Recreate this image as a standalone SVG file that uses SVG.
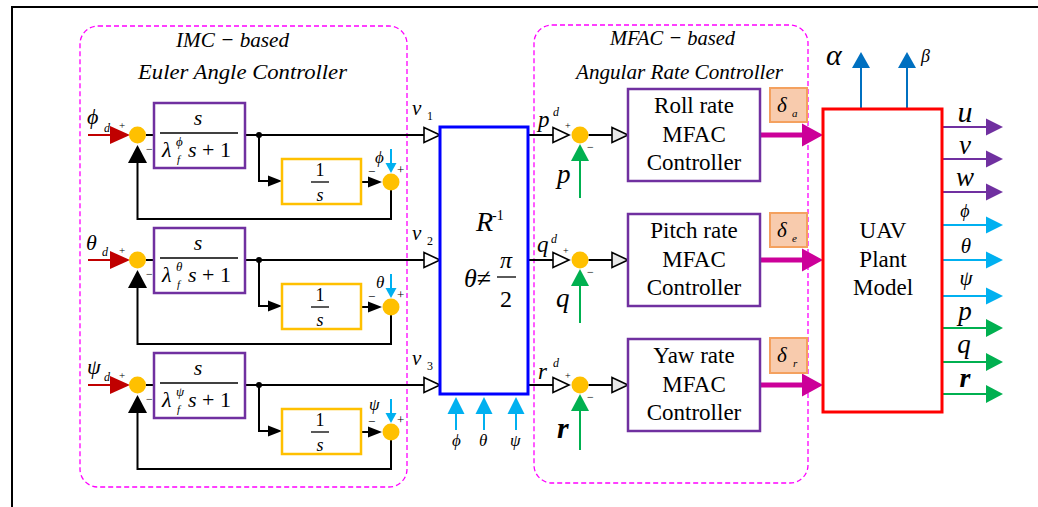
<svg xmlns="http://www.w3.org/2000/svg" width="1038" height="507" viewBox="0 0 1038 507">
<style>
.t{font-family:"Liberation Serif","Times New Roman",serif;fill:#000}
.i{font-style:italic}
.b{font-weight:bold}
.ln{stroke:#000;stroke-width:2;fill:none}
.thin{stroke:#000;stroke-width:1.3;fill:none}
.dash{fill:none;stroke:#FF00FF;stroke-width:1.3;stroke-dasharray:5 3}
.sum{fill:#FFC000}
.pb{fill:#fff;stroke:#7030A0;stroke-width:2.5}
.ob{fill:#fff;stroke:#FFC000;stroke-width:2.5}
.db{fill:#F8CBAD;stroke:#F4A15F;stroke-width:2}
.cy{stroke:#00B0F0;stroke-width:2;fill:none}
.gr{stroke:#00B050;stroke-width:2;fill:none}
.pu{stroke:#7030A0;stroke-width:2;fill:none}
.bl{stroke:#0070C0;stroke-width:2;fill:none}
.rd{stroke:#C00000;stroke-width:2;fill:none}
.mg{stroke:#CC0099;stroke-width:5;fill:none;stroke-linecap:round}
</style>
<defs>
<marker id="mHollow" markerUnits="userSpaceOnUse" markerWidth="16" markerHeight="15" refX="0" refY="7.5" orient="auto" overflow="visible"><path d="M0,0 L16,7.5 L0,15 Z" fill="#fff" stroke="#000" stroke-width="1.6"/></marker>
<marker id="mHollowG" markerUnits="userSpaceOnUse" markerWidth="16" markerHeight="15" refX="0" refY="7.5" orient="auto" overflow="visible"><path d="M0,0 L16,7.5 L0,15 Z" fill="#E8E8E8" stroke="#000" stroke-width="1.6"/></marker>
<marker id="mBlk" markerUnits="userSpaceOnUse" markerWidth="14" markerHeight="11" refX="0" refY="5.5" orient="auto" overflow="visible"><path d="M0,0 L14,5.5 L0,11 Z" fill="#000"/></marker>
<marker id="mBlkBig" markerUnits="userSpaceOnUse" markerWidth="18" markerHeight="19" refX="0" refY="9.5" orient="auto" overflow="visible"><path d="M0,0 L18,9.5 L0,19 Z" fill="#000"/></marker>
<marker id="mRed" markerUnits="userSpaceOnUse" markerWidth="20" markerHeight="18" refX="0" refY="9" orient="auto" overflow="visible"><path d="M0,0 L20,9 L0,18 Z" fill="#C00000"/></marker>
<marker id="mCyanS" markerUnits="userSpaceOnUse" markerWidth="10" markerHeight="11" refX="0" refY="5.5" orient="auto" overflow="visible"><path d="M0,0 L10,5.5 L0,11 Z" fill="#00B0F0"/></marker>
<marker id="mCyan" markerUnits="userSpaceOnUse" markerWidth="17" markerHeight="17" refX="0" refY="8.5" orient="auto" overflow="visible"><path d="M0,0 L17,8.5 L0,17 Z" fill="#00B0F0"/></marker>
<marker id="mGreen" markerUnits="userSpaceOnUse" markerWidth="17" markerHeight="18" refX="0" refY="9" orient="auto" overflow="visible"><path d="M0,0 L17,9 L0,18 Z" fill="#00B050"/></marker>
<marker id="mPurple" markerUnits="userSpaceOnUse" markerWidth="17" markerHeight="17" refX="0" refY="8.5" orient="auto" overflow="visible"><path d="M0,0 L17,8.5 L0,17 Z" fill="#7030A0"/></marker>
<marker id="mBlue" markerUnits="userSpaceOnUse" markerWidth="16" markerHeight="18" refX="0" refY="9" orient="auto" overflow="visible"><path d="M0,0 L16,9 L0,18 Z" fill="#0070C0"/></marker>
<marker id="mMag" markerUnits="userSpaceOnUse" markerWidth="21" markerHeight="23" refX="0" refY="11.5" orient="auto" overflow="visible"><path d="M0,0 L21,11.5 L0,23 Z" fill="#CC0099"/></marker>
</defs>
<rect width="1038" height="507" fill="#fff"/>
<path d="M12,507 V7 H1038" stroke="#000" stroke-width="2" fill="none"/>

<g id="imc-group">
<rect class="dash" x="80" y="26" width="327" height="461" rx="18"/>
<text class="t i" x="176" y="47" font-size="22" textLength="113" lengthAdjust="spacingAndGlyphs">IMC − based</text>
<text class="t i" x="138" y="79" font-size="22" textLength="209" lengthAdjust="spacingAndGlyphs">Euler  Angle Controller</text>
</g>
<g id="mfac-group">
<rect class="dash" x="534" y="25" width="274" height="458" rx="18"/>
<text class="t i" x="610" y="45" font-size="22" textLength="125" lengthAdjust="spacingAndGlyphs">MFAC − based</text>
<text class="t i" x="576" y="79" font-size="22" textLength="207" lengthAdjust="spacingAndGlyphs">Angular Rate Controller</text>
</g>

<g id="connectors">
<path class="rd" d="M88,135 H110" marker-end="url(#mRed)"/>
<path class="ln" d="M146,135 H154"/>
<path class="ln" d="M245,135 H424" marker-end="url(#mHollow)"/>
<path class="ln" d="M259,135 V181 H268" marker-end="url(#mBlk)"/>
<path class="ln" d="M361,182 H368" marker-end="url(#mBlk)"/>
<path class="cy" d="M391,149 V163" marker-end="url(#mCyanS)"/>
<path class="ln" d="M391,190 V219 H137.5 V163" marker-end="url(#mBlkBig)"/>
<path class="rd" d="M88,260 H110" marker-end="url(#mRed)"/>
<path class="ln" d="M146,260 H154"/>
<path class="ln" d="M245,260 H424" marker-end="url(#mHollow)"/>
<path class="ln" d="M259,260 V306 H268" marker-end="url(#mBlk)"/>
<path class="ln" d="M361,307 H368" marker-end="url(#mBlk)"/>
<path class="cy" d="M391,274 V288" marker-end="url(#mCyanS)"/>
<path class="ln" d="M391,315 V344 H137.5 V288" marker-end="url(#mBlkBig)"/>
<path class="rd" d="M88,385 H110" marker-end="url(#mRed)"/>
<path class="ln" d="M146,385 H154"/>
<path class="ln" d="M245,385 H424" marker-end="url(#mHollow)"/>
<path class="ln" d="M259,385 V431 H268" marker-end="url(#mBlk)"/>
<path class="ln" d="M361,432 H368" marker-end="url(#mBlk)"/>
<path class="cy" d="M391,399 V413" marker-end="url(#mCyanS)"/>
<path class="ln" d="M391,440 V469 H137.5 V413" marker-end="url(#mBlkBig)"/>
<circle cx="259" cy="135" r="3" fill="#000"/>
<circle cx="259" cy="260" r="3" fill="#000"/>
<circle cx="259" cy="385" r="3" fill="#000"/>
<path class="cy" d="M456,430 V414" marker-end="url(#mCyan)"/>
<path class="cy" d="M484,430 V414" marker-end="url(#mCyan)"/>
<path class="cy" d="M516,430 V414" marker-end="url(#mCyan)"/>
<path class="ln" d="M528,135 H553" marker-end="url(#mHollow)"/>
<path class="ln" d="M588.5,135 H612" marker-end="url(#mHollowG)"/>
<path class="gr" d="M580,198 V161" marker-end="url(#mGreen)"/>
<path class="mg" d="M760,135 H802" marker-end="url(#mMag)"/>
<path class="ln" d="M528,260 H553" marker-end="url(#mHollow)"/>
<path class="ln" d="M588.5,260 H612" marker-end="url(#mHollowG)"/>
<path class="gr" d="M580,323 V286" marker-end="url(#mGreen)"/>
<path class="mg" d="M760,260 H802" marker-end="url(#mMag)"/>
<path class="ln" d="M528,385 H553" marker-end="url(#mHollow)"/>
<path class="ln" d="M588.5,385 H612" marker-end="url(#mHollowG)"/>
<path class="gr" d="M580,450 V411" marker-end="url(#mGreen)"/>
<path class="mg" d="M760,385 H802" marker-end="url(#mMag)"/>
<path class="bl" d="M861,109 V68" marker-end="url(#mBlue)"/>
<path class="bl" d="M907,109 V68" marker-end="url(#mBlue)"/>
<path class="pu" d="M942,127 H986" marker-end="url(#mPurple)"/>
<path class="pu" d="M942,159 H986" marker-end="url(#mPurple)"/>
<path class="pu" d="M942,192 H986" marker-end="url(#mPurple)"/>
<path class="cy" d="M942,225 H986" marker-end="url(#mCyan)"/>
<path class="cy" d="M942,260 H986" marker-end="url(#mCyan)"/>
<path class="cy" d="M942,296 H986" marker-end="url(#mCyan)"/>
<path class="gr" d="M942,328 H986" marker-end="url(#mGreen)"/>
<path class="gr" d="M942,362 H986" marker-end="url(#mGreen)"/>
<path class="gr" d="M942,394 H986" marker-end="url(#mGreen)"/>

<text class="t i" x="87" y="124" font-size="22">ϕ</text><text class="t i" x="104" y="132" font-size="12">d</text>
<text class="t i" x="86" y="250" font-size="22">θ</text><text class="t i" x="102" y="256" font-size="12">d</text>
<text class="t i" x="87" y="374" font-size="22">ψ</text><text class="t i" x="104" y="381" font-size="12">d</text>
<text class="t" x="119" y="129" font-size="11">+</text><text class="t" x="146" y="153" font-size="12">−</text>
<text class="t" x="119" y="254" font-size="11">+</text><text class="t" x="146" y="278" font-size="12">−</text>
<text class="t" x="119" y="379" font-size="11">+</text><text class="t" x="146" y="403" font-size="12">−</text>
<text class="t i" x="375" y="163" font-size="17">ϕ</text><text class="t" x="368" y="176" font-size="13">−</text><text class="t" x="397" y="174" font-size="13">+</text>
<text class="t i" x="376" y="288" font-size="17">θ</text><text class="t" x="368" y="301" font-size="13">−</text><text class="t" x="397" y="299" font-size="13">+</text>
<text class="t i" x="369" y="410" font-size="17">ψ</text><text class="t" x="368" y="426" font-size="13">−</text><text class="t" x="397" y="424" font-size="13">+</text>
<text class="t i" x="412" y="115" font-size="21">ν</text><text class="t" x="427" y="120" font-size="12">1</text>
<text class="t i" x="412" y="240" font-size="21">ν</text><text class="t" x="427" y="245" font-size="12">2</text>
<text class="t i" x="412" y="365" font-size="21">ν</text><text class="t" x="427" y="370" font-size="12">3</text>
<text class="t i" x="452" y="446" font-size="17">ϕ</text>
<text class="t i" x="479" y="446" font-size="17">θ</text>
<text class="t i" x="510" y="446" font-size="17">ψ</text>
<text class="t i" x="538" y="127" font-size="23">p</text><text class="t i" x="553" y="116" font-size="12">d</text>
<text class="t i" x="537" y="252" font-size="23">q</text><text class="t i" x="551" y="243" font-size="12">d</text>
<text class="t i" x="538" y="379" font-size="23">r</text><text class="t i" x="553" y="367" font-size="12">d</text>
<text class="t" x="565" y="129" font-size="10">+</text><text class="t" x="587" y="151" font-size="12">−</text>
<text class="t" x="563" y="254" font-size="10">+</text><text class="t" x="587" y="276" font-size="12">−</text>
<text class="t" x="565" y="379" font-size="10">+</text><text class="t" x="587" y="401" font-size="12">−</text>
<text class="t i" x="557" y="183" font-size="27">p</text>
<text class="t i" x="556" y="307" font-size="27">q</text>
<text class="t i b" x="557" y="438" font-size="30">r</text>
<text class="t i" x="826" y="65" font-size="30">α</text>
<text class="t i" x="921" y="62" font-size="18">β</text>
<text class="t i" x="965" y="122" font-size="30" text-anchor="middle">u</text>
<text class="t i" x="965" y="154" font-size="27" text-anchor="middle">v</text>
<text class="t i" x="965" y="186" font-size="27" text-anchor="middle">w</text>
<text class="t i" x="965" y="217" font-size="18" text-anchor="middle">ϕ</text>
<text class="t i" x="966" y="253" font-size="21" text-anchor="middle">θ</text>
<text class="t i" x="966" y="285" font-size="21" text-anchor="middle">ψ</text>
<text class="t i" x="965" y="320" font-size="27" text-anchor="middle">p</text>
<text class="t i" x="964" y="353" font-size="27" text-anchor="middle">q</text>
<text class="t i b" x="965" y="387" font-size="28" text-anchor="middle">r</text>
</g>

<g id="sum-phi-1"><circle class="sum" cx="137.5" cy="135" r="8.5"/></g>
<g id="sum-phi-2"><circle class="sum" cx="391" cy="182" r="8.5"/></g>
<g id="sum-theta-1"><circle class="sum" cx="137.5" cy="260" r="8.5"/></g>
<g id="sum-theta-2"><circle class="sum" cx="391" cy="307" r="8.5"/></g>
<g id="sum-psi-1"><circle class="sum" cx="137.5" cy="385" r="8.5"/></g>
<g id="sum-psi-2"><circle class="sum" cx="391" cy="432" r="8.5"/></g>
<g id="sum-p"><circle class="sum" cx="580" cy="135" r="8.5"/></g>
<g id="sum-q"><circle class="sum" cx="580" cy="260" r="8.5"/></g>
<g id="sum-r"><circle class="sum" cx="580" cy="385" r="8.5"/></g>

<g id="filter-phi">
<rect class="pb" x="154" y="103" width="91" height="65"/>
<text class="t i" x="198" y="125" font-size="22" text-anchor="middle">s</text>
<path class="thin" d="M160,133 H238"/>
<text class="t i" x="162" y="157" font-size="22">λ</text><text class="t i" x="176" y="146" font-size="13">ϕ</text><text class="t i" x="177" y="163" font-size="11">f</text>
<text class="t" x="188" y="157" font-size="22"><tspan font-style="italic">s</tspan> + 1</text>
</g>
<g id="filter-theta">
<rect class="pb" x="154" y="228" width="91" height="65"/>
<text class="t i" x="198" y="250" font-size="22" text-anchor="middle">s</text>
<path class="thin" d="M160,258 H238"/>
<text class="t i" x="162" y="282" font-size="22">λ</text><text class="t i" x="176" y="271" font-size="13">θ</text><text class="t i" x="177" y="288" font-size="11">f</text>
<text class="t" x="188" y="282" font-size="22"><tspan font-style="italic">s</tspan> + 1</text>
</g>
<g id="filter-psi">
<rect class="pb" x="154" y="353" width="91" height="65"/>
<text class="t i" x="198" y="375" font-size="22" text-anchor="middle">s</text>
<path class="thin" d="M160,383 H238"/>
<text class="t i" x="162" y="407" font-size="22">λ</text><text class="t i" x="176" y="396" font-size="13">ψ</text><text class="t i" x="177" y="413" font-size="11">f</text>
<text class="t" x="188" y="407" font-size="22"><tspan font-style="italic">s</tspan> + 1</text>
</g>

<g id="int-phi">
<rect class="ob" x="282" y="159" width="79" height="45"/>
<text class="t" x="320" y="176" font-size="18" text-anchor="middle">1</text>
<path class="thin" d="M311,182 H329"/>
<text class="t i" x="320" y="201" font-size="18" text-anchor="middle">s</text>
</g>
<g id="int-theta">
<rect class="ob" x="282" y="284" width="79" height="45"/>
<text class="t" x="320" y="301" font-size="18" text-anchor="middle">1</text>
<path class="thin" d="M311,307 H329"/>
<text class="t i" x="320" y="326" font-size="18" text-anchor="middle">s</text>
</g>
<g id="int-psi">
<rect class="ob" x="282" y="409" width="79" height="45"/>
<text class="t" x="320" y="426" font-size="18" text-anchor="middle">1</text>
<path class="thin" d="M311,432 H329"/>
<text class="t i" x="320" y="451" font-size="18" text-anchor="middle">s</text>
</g>

<g id="r-inverse">
<rect x="440" y="127" width="88" height="267" fill="#fff" stroke="#0000FF" stroke-width="3"/>
<text class="t i" x="476" y="231" font-size="28">R</text><text class="t" x="492" y="220" font-size="14">-1</text>
<text class="t" x="464" y="287" font-size="26"><tspan font-style="italic">θ</tspan>≠</text>
<text class="t i" x="506" y="268" font-size="24" text-anchor="middle">π</text>
<path class="thin" d="M497,277 H516"/>
<text class="t" x="506" y="307" font-size="24" text-anchor="middle">2</text>
</g>

<g id="roll-mfac">
<rect class="pb" x="628" y="89" width="132" height="92"/>
<text class="t" x="694" y="113" font-size="23" text-anchor="middle">Roll rate</text>
<text class="t" x="694" y="142" font-size="23" text-anchor="middle">MFAC</text>
<text class="t" x="694" y="170" font-size="23" text-anchor="middle">Controller</text>
</g>
<g id="pitch-mfac">
<rect class="pb" x="628" y="214" width="132" height="92"/>
<text class="t" x="694" y="238" font-size="23" text-anchor="middle">Pitch rate</text>
<text class="t" x="694" y="267" font-size="23" text-anchor="middle">MFAC</text>
<text class="t" x="694" y="295" font-size="23" text-anchor="middle">Controller</text>
</g>
<g id="yaw-mfac">
<rect class="pb" x="628" y="339" width="132" height="92"/>
<text class="t" x="694" y="363" font-size="23" text-anchor="middle">Yaw rate</text>
<text class="t" x="694" y="392" font-size="23" text-anchor="middle">MFAC</text>
<text class="t" x="694" y="420" font-size="23" text-anchor="middle">Controller</text>
</g>
<g id="delta-a">
<rect class="db" x="770" y="88" width="37" height="34"/>
<text class="t i" x="777" y="112" font-size="21">δ</text><text class="t i" x="792" y="117" font-size="11">a</text>
</g>
<g id="delta-e">
<rect class="db" x="770" y="213" width="37" height="34"/>
<text class="t i" x="777" y="237" font-size="21">δ</text><text class="t i" x="792" y="242" font-size="11">e</text>
</g>
<g id="delta-r">
<rect class="db" x="770" y="338" width="37" height="35"/>
<text class="t i" x="777" y="362" font-size="21">δ</text><text class="t i" x="793" y="367" font-size="11">r</text>
</g>

<g id="uav-plant">
<rect x="823" y="109" width="119" height="303" fill="#fff" stroke="#FF0000" stroke-width="3"/>
<text class="t" x="883" y="238" font-size="23" text-anchor="middle">UAV</text>
<text class="t" x="883" y="267" font-size="23" text-anchor="middle">Plant</text>
<text class="t" x="883" y="295" font-size="23" text-anchor="middle">Model</text>
</g>
</svg>
